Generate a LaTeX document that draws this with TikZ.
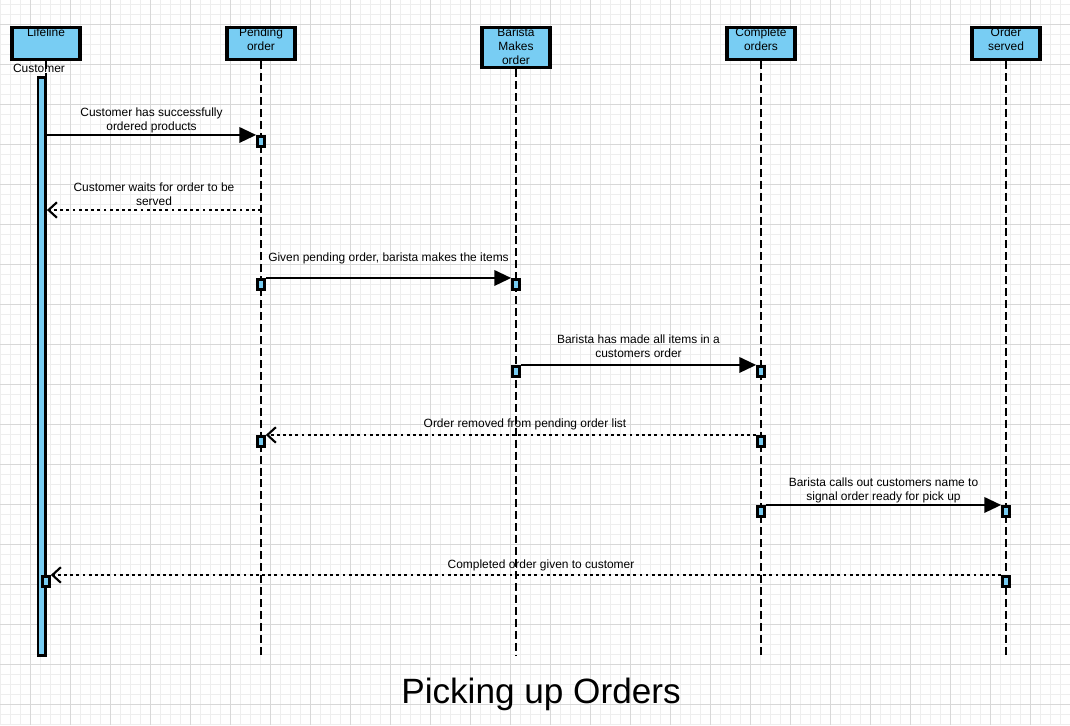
\documentclass[tikz,border=0pt]{standalone}
\usepackage{fontspec}
\setmainfont{Liberation Sans}
\usetikzlibrary{arrows.meta}
\definecolor{actblue}{RGB}{120,205,243}
\definecolor{gridminor}{RGB}{238,238,238}
\definecolor{gridmajor}{RGB}{216,216,216}
\tikzset{
	head/.style={draw=black, line width=2.3pt, fill=actblue, minimum width=1.7cm, minimum height=0.8cm, inner sep=0},
	headtext/.style={anchor=north, align=center, inner sep=0, yshift=-1.2pt, font=\fontsize{8.5}{9.9}\selectfont},
	lifeline/.style={line width=2.1pt, dash pattern=on 5.7pt off 2.8pt},
	act/.style={draw=black, line width=1.9pt, fill=actblue, minimum width=0.175cm, minimum height=0.26cm, inner sep=0},
	call/.style={line width=1.6pt, -{Triangle[length=12pt, width=11pt]}},
	reply/.style={line width=1.7pt, dash pattern=on 2pt off 2.4pt, -{Straight Barb[length=6pt, width=11pt, line width=1.5pt]}},
	msglabel/.style={midway, above, align=center, inner sep=0.5pt, text depth=1.8pt, font=\fontsize{8.5}{9.9}\selectfont},
}
\begin{document}
\begin{tikzpicture}[x=0.025cm, y=-0.025cm]
		%%%%% START %%%%%
		
		\useasboundingbox (0, 0) rectangle (1070, 725);
		\fill[white] (0, 0) rectangle (1070, 725);
		
		% grid
		\foreach \gx in {0.7,10.7,...,1070} \draw[gridminor, line width=0.5pt] (\gx, 0) -- (\gx, 725);
		\foreach \gy in {4.3,14.3,...,725} \draw[gridminor, line width=0.5pt] (0, \gy) -- (1070, \gy);
		\foreach \gx in {30.7,70.7,...,1070} \draw[gridmajor, line width=0.7pt] (\gx, 0) -- (\gx, 725);
		\foreach \gy in {24.3,64.3,...,725} \draw[gridmajor, line width=0.7pt] (0, \gy) -- (1070, \gy);
		
		% heads
		\node[head] (hcust) at (46, 43.5) {};
		\node[head] (hpend) at (261, 43.5) {};
		\node[head, minimum height=1cm] (hbar) at (516, 47.5) {};
		\node[head] (hcomp) at (761, 43.5) {};
		\node[head] (hserv) at (1006, 43.5) {};
		
		\node[headtext] (tcust) at (hcust.north) {Lifeline};
		\node[headtext] (tpend) at (hpend.north) {Pending\\order};
		\node[headtext] (tbar) at (hbar.north) {Barista\\Makes\\order};
		\node[headtext] (tcomp) at (hcomp.north) {Complete\\orders};
		\node[headtext] (tserv) at (hserv.north) {Order\\served};
		
		\node[font=\fontsize{8.5}{9.9}\selectfont, inner sep=0] (custname) at (39, 68.5) {Customer};
		
		% lifelines
		\coordinate (bottom) at (0, 656);
		\node[act, minimum height=14.45cm, minimum width=0.19cm] (cbar) at (41.8, 366.3) {};
		\draw[lifeline] (hcust.south) -- (hcust.south |- bottom);
		\draw[lifeline] (hpend.south) -- (hpend.south |- bottom);
		\draw[lifeline] (hbar.south) -- (hbar.south |- bottom);
		\draw[lifeline] (hcomp.south) -- (hcomp.south |- bottom);
		\draw[lifeline] (hserv.south) -- (hserv.south |- bottom);
		
		% activations
		\node[act] (pa1) at (261, 141.5) {};
		\node[act] (pa2) at (261, 284.5) {};
		\node[act] (ba1) at (516, 284.5) {};
		\node[act] (ba2) at (516, 371.5) {};
		\node[act] (ca1) at (761, 371.5) {};
		\node[act] (pa3) at (261, 441.5) {};
		\node[act] (ca2) at (761, 441.5) {};
		\node[act] (ca3) at (761, 511.5) {};
		\node[act] (oa1) at (1006, 511.5) {};
		\node[act] (oa2) at (1006, 581.5) {};
		\node[act] (cu1) at (46, 581.5) {};
		
		% messages
		\draw[call] (cbar.east |- pa1.north west) -- (pa1.north west)
			node[msglabel] {Customer has successfully\\ordered products};
		
		\coordinate (wait) at (261, 210);
		\draw[reply] (wait) -- (cbar.east |- wait)
			node[msglabel] {Customer waits for order to be\\served};
		
		\draw[call] (pa2.north east) -- (ba1.north west)
			node[msglabel, yshift=0.31cm] {Given pending order, barista makes the items};
		
		\draw[call] (ba2.north east) -- (ca1.north west)
			node[msglabel, yshift=0.075cm] {Barista has made all items in a\\customers order};
		
		\draw[reply] (ca2.north west) -- (pa3.north east)
			node[msglabel, xshift=0.35cm, yshift=0.075cm] {Order removed from pending order list};
		
		\draw[call] (ca3.north east) -- (oa1.north west)
			node[msglabel] {Barista calls out customers name to\\signal order ready for pick up};
		
		\draw[reply] (oa2.north west) -- (cu1.north east)
			node[msglabel, xshift=0.375cm, yshift=0.05cm] {Completed order given to customer};
		
		% title
		\node[font=\fontsize{25}{29}\selectfont] (title) at (541, 694) {Picking up Orders};
		
		%%%%% END %%%%%
\end{tikzpicture}
\end{document}
